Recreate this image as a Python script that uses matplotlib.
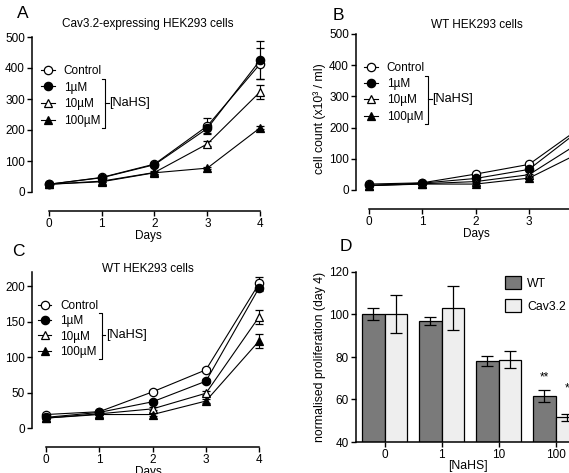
import matplotlib
matplotlib.use("Agg")
import matplotlib.pyplot as plt
from matplotlib.lines import Line2D

plt.rcParams['font.family'] = ['Liberation Sans', 'DejaVu Sans']
plt.rcParams['font.size'] = 8.5

W, H = 569, 473

days = [0, 1, 2, 3, 4]
serie_nomes = ['Control', '1µM', '10µM', '100µM']

# A - Cav3.2-expressing HEK293
a_ctrl = [25, 47, 90, 213, 413]
a_1um = [25, 46, 88, 205, 425]
a_10um = [25, 35, 63, 155, 323]
a_100um = [25, 33, 62, 77, 207]
a_ctrl_err = [2, 4, 5, 25, 50]
a_1um_err = [2, 3, 5, 15, 62]
a_10um_err = [2, 3, 4, 8, 23]
a_100um_err = [2, 2, 3, 4, 5]

# B / C - WT HEK293
wt_ctrl = [19, 23, 51, 82, 204]
wt_1um = [15, 22, 37, 66, 198]
wt_10um = [14, 20, 27, 49, 157]
wt_100um = [14, 19, 19, 38, 123]
wt_ctrl_err = [1, 1, 2, 3, 9]
wt_1um_err = [1, 1, 2, 3, 5]
wt_10um_err = [1, 1, 2, 3, 10]
wt_100um_err = [1, 1, 2, 3, 10]

# D - proliferacao normalizada (dia 4)
d_grupos = ['0', '1', '10', '100']
d_wt = [100.4, 97.0, 78.2, 61.8]
d_wt_err = [2.8, 1.8, 2.5, 2.9]
d_cav = [100.2, 103.0, 78.6, 51.7]
d_cav_err = [9.0, 10.5, 4.0, 1.7]

estilos = [
    dict(marker='o', mfc='white'),
    dict(marker='o', mfc='black'),
    dict(marker='^', mfc='white'),
    dict(marker='^', mfc='black'),
]

fig = plt.figure(figsize=(W / 100, H / 100), dpi=100)


def eixo_px(left, top, right, bottom):
    # cria eixo a partir de coordenadas em pixels (origem em cima/esquerda)
    return fig.add_axes([left / W, 1 - bottom / H, (right - left) / W, (bottom - top) / H])


def fx(px):
    return px / W


def fy(py):
    return 1 - py / H


def estilo_eixo(ax, xb=(0, 4)):
    ax.spines['top'].set_visible(False)
    ax.spines['right'].set_visible(False)
    ax.spines['bottom'].set_position(('outward', 14))
    ax.spines['bottom'].set_bounds(*xb)
    for s in ('left', 'bottom'):
        ax.spines[s].set_linewidth(1.1)
    ax.tick_params(width=1.0, length=3.5, pad=1.5)
    ax.set_xticks(days)
    ax.patch.set_visible(False)


def painel_linhas(ax, series, erros, xlim, ylim, yticks, xb):
    for vals, errs, est in zip(series, erros, estilos):
        ax.errorbar(days, vals, yerr=errs, color='black', lw=0.8, capsize=3.2,
                    elinewidth=0.8, capthick=0.8, ms=6, mec='black', mew=0.9,
                    clip_on=False, zorder=3, **est)
    ax.set_xlim(*xlim)
    ax.set_ylim(*ylim)
    ax.set_yticks(yticks)
    estilo_eixo(ax, xb)
    ax.spines['left'].set_bounds(*ylim)


def legenda(ax, xm, y1, passo):
    # xm: x do marcador, y1: centro da primeira linha, passo: distancia entre linhas (px)
    fs = 8.5
    em = fs * 100 / 72
    ls = (passo - 11.74) / em
    hs = [Line2D([], [], color='black', lw=0.8, marker=e['marker'], mfc=e['mfc'],
                 mec='black', ms=6, mew=0.9) for e in estilos]
    ax.legend(hs, serie_nomes, loc='upper left', frameon=False,
              bbox_to_anchor=(fx(xm - 6.5), fy(y1 - 5)), bbox_transform=fig.transFigure,
              borderpad=0, borderaxespad=0, handlelength=1.15, handletextpad=0.75,
              labelspacing=ls, fontsize=fs)
    # chave [NaHS]
    xb = xm + 57.5
    r1, r2, r3 = y1 + passo, y1 + 2 * passo, y1 + 3 * passo
    fig.add_artist(Line2D([fx(xb - 3), fx(xb), fx(xb), fx(xb - 3)],
                          [fy(r1 - 7), fy(r1 - 7), fy(r3 + 9), fy(r3 + 9)],
                          color='black', lw=0.8))
    fig.add_artist(Line2D([fx(xb), fx(xb + 3.5)], [fy(r2), fy(r2)],
                          color='black', lw=0.8))
    fig.text(fx(xb + 4), fy(r2), '[NaHS]', va='center', ha='left', fontsize=9.2)


def titulo(txt, xc, yc):
    fig.text(fx(xc), fy(yc), txt, ha='center', va='center', fontsize=8.5)


ylab = 'cell count (x10³ / ml)'

# ---- A ----
axA = eixo_px(32, 37, 32 + 4.6 * 52.8, 192)
painel_linhas(axA, [a_ctrl, a_1um, a_10um, a_100um],
              [a_ctrl_err, a_1um_err, a_10um_err, a_100um_err],
              (-0.32, 4.28), (0, 500), [0, 100, 200, 300, 400, 500], (0, 4))
titulo('Cav3.2-expressing HEK293 cells', 148, 24)
axA.set_xlabel('Days', fontsize=8.5, labelpad=0, x=0.48)
axA.set_ylabel(ylab, fontsize=8.8, labelpad=14, y=0.47)
legenda(axA, 47.7, 70, 16.3)
fig.text(fx(17), fy(13), 'A', fontsize=12.5, va='center')

# ---- B ----
axB = eixo_px(356, 34, 356 + 4.6 * 53.3, 190)
painel_linhas(axB, [wt_ctrl, wt_1um, wt_10um, wt_100um],
              [wt_ctrl_err, wt_1um_err, wt_10um_err, wt_100um_err],
              (-0.244, 4.356), (0, 500), [0, 100, 200, 300, 400, 500], (0, 4))
titulo('WT HEK293 cells', 477, 25)
axB.set_xlabel('Days', fontsize=8.5, labelpad=0, x=0.49)
axB.set_ylabel(ylab, fontsize=8.8, labelpad=2, y=0.46)
legenda(axB, 370.7, 66.7, 16.1)
fig.text(fx(333), fy(15), 'B', fontsize=12.5, va='center')

# ---- C ----
axC = eixo_px(32, 272, 32 + 4.6 * 53.3, 428)
painel_linhas(axC, [wt_ctrl, wt_1um, wt_10um, wt_100um],
              [wt_ctrl_err, wt_1um_err, wt_10um_err, wt_100um_err],
              (-0.263, 4.337), (0, 220), [0, 50, 100, 150, 200], (0, 4))
axC.spines['left'].set_bounds(0, 220)
titulo('WT HEK293 cells', 148, 269)
axC.set_xlabel('Days', fontsize=8.5, labelpad=0, x=0.475)
axC.set_ylabel(ylab, fontsize=8.8, labelpad=8)
legenda(axC, 44.3, 305, 15)
fig.text(fx(12), fy(251), 'C', fontsize=12.5, va='center')

# ---- D ----
axD = eixo_px(356, 272, 356 + 4 * 57, 442)
pos = list(range(len(d_grupos)))
bw = 0.395
axD.bar([p - bw / 2 for p in pos], d_wt, bw, bottom=0, color='#7a7a7a', edgecolor='black',
        lw=0.9, yerr=d_wt_err, error_kw=dict(capsize=4, elinewidth=0.9, capthick=0.9),
        label='WT', zorder=2)
axD.bar([p + bw / 2 for p in pos], d_cav, bw, bottom=0, color='#eeeeee', edgecolor='black',
        lw=0.9, yerr=d_cav_err, error_kw=dict(capsize=4, elinewidth=0.9, capthick=0.9),
        label='Cav3.2', zorder=2)
axD.set_xlim(-0.5, 3.5)
axD.set_ylim(40, 120)
axD.set_yticks([40, 60, 80, 100, 120])
axD.set_xticks(pos)
axD.set_xticklabels(d_grupos)
axD.spines['top'].set_visible(False)
axD.spines['right'].set_visible(False)
for s in ('left', 'bottom'):
    axD.spines[s].set_linewidth(1.1)
    axD.spines[s].set_zorder(4)
axD.tick_params(width=1.0, length=3.5, pad=1.5)
axD.set_xlabel('[NaHS]', fontsize=8.8, labelpad=-1, x=0.49)
axD.set_ylabel('normalised proliferation (day 4)', fontsize=8.8, labelpad=2)
axD.text(3 - bw / 2, 70.5, '**', ha='center', va='center', fontsize=8.5)
axD.text(3 + bw / 2, 65, '*', ha='center', va='center', fontsize=8.5)
axD.legend(loc='upper left', frameon=False, bbox_to_anchor=(fx(505), fy(276)),
           bbox_transform=fig.transFigure, borderpad=0, borderaxespad=0,
           handlelength=1.3, handleheight=1.3, handletextpad=0.5, labelspacing=0.75,
           fontsize=8.8)
fig.text(fx(340), fy(246), 'D', fontsize=12.5, va='center')

fig.savefig('out.png', dpi=100)
